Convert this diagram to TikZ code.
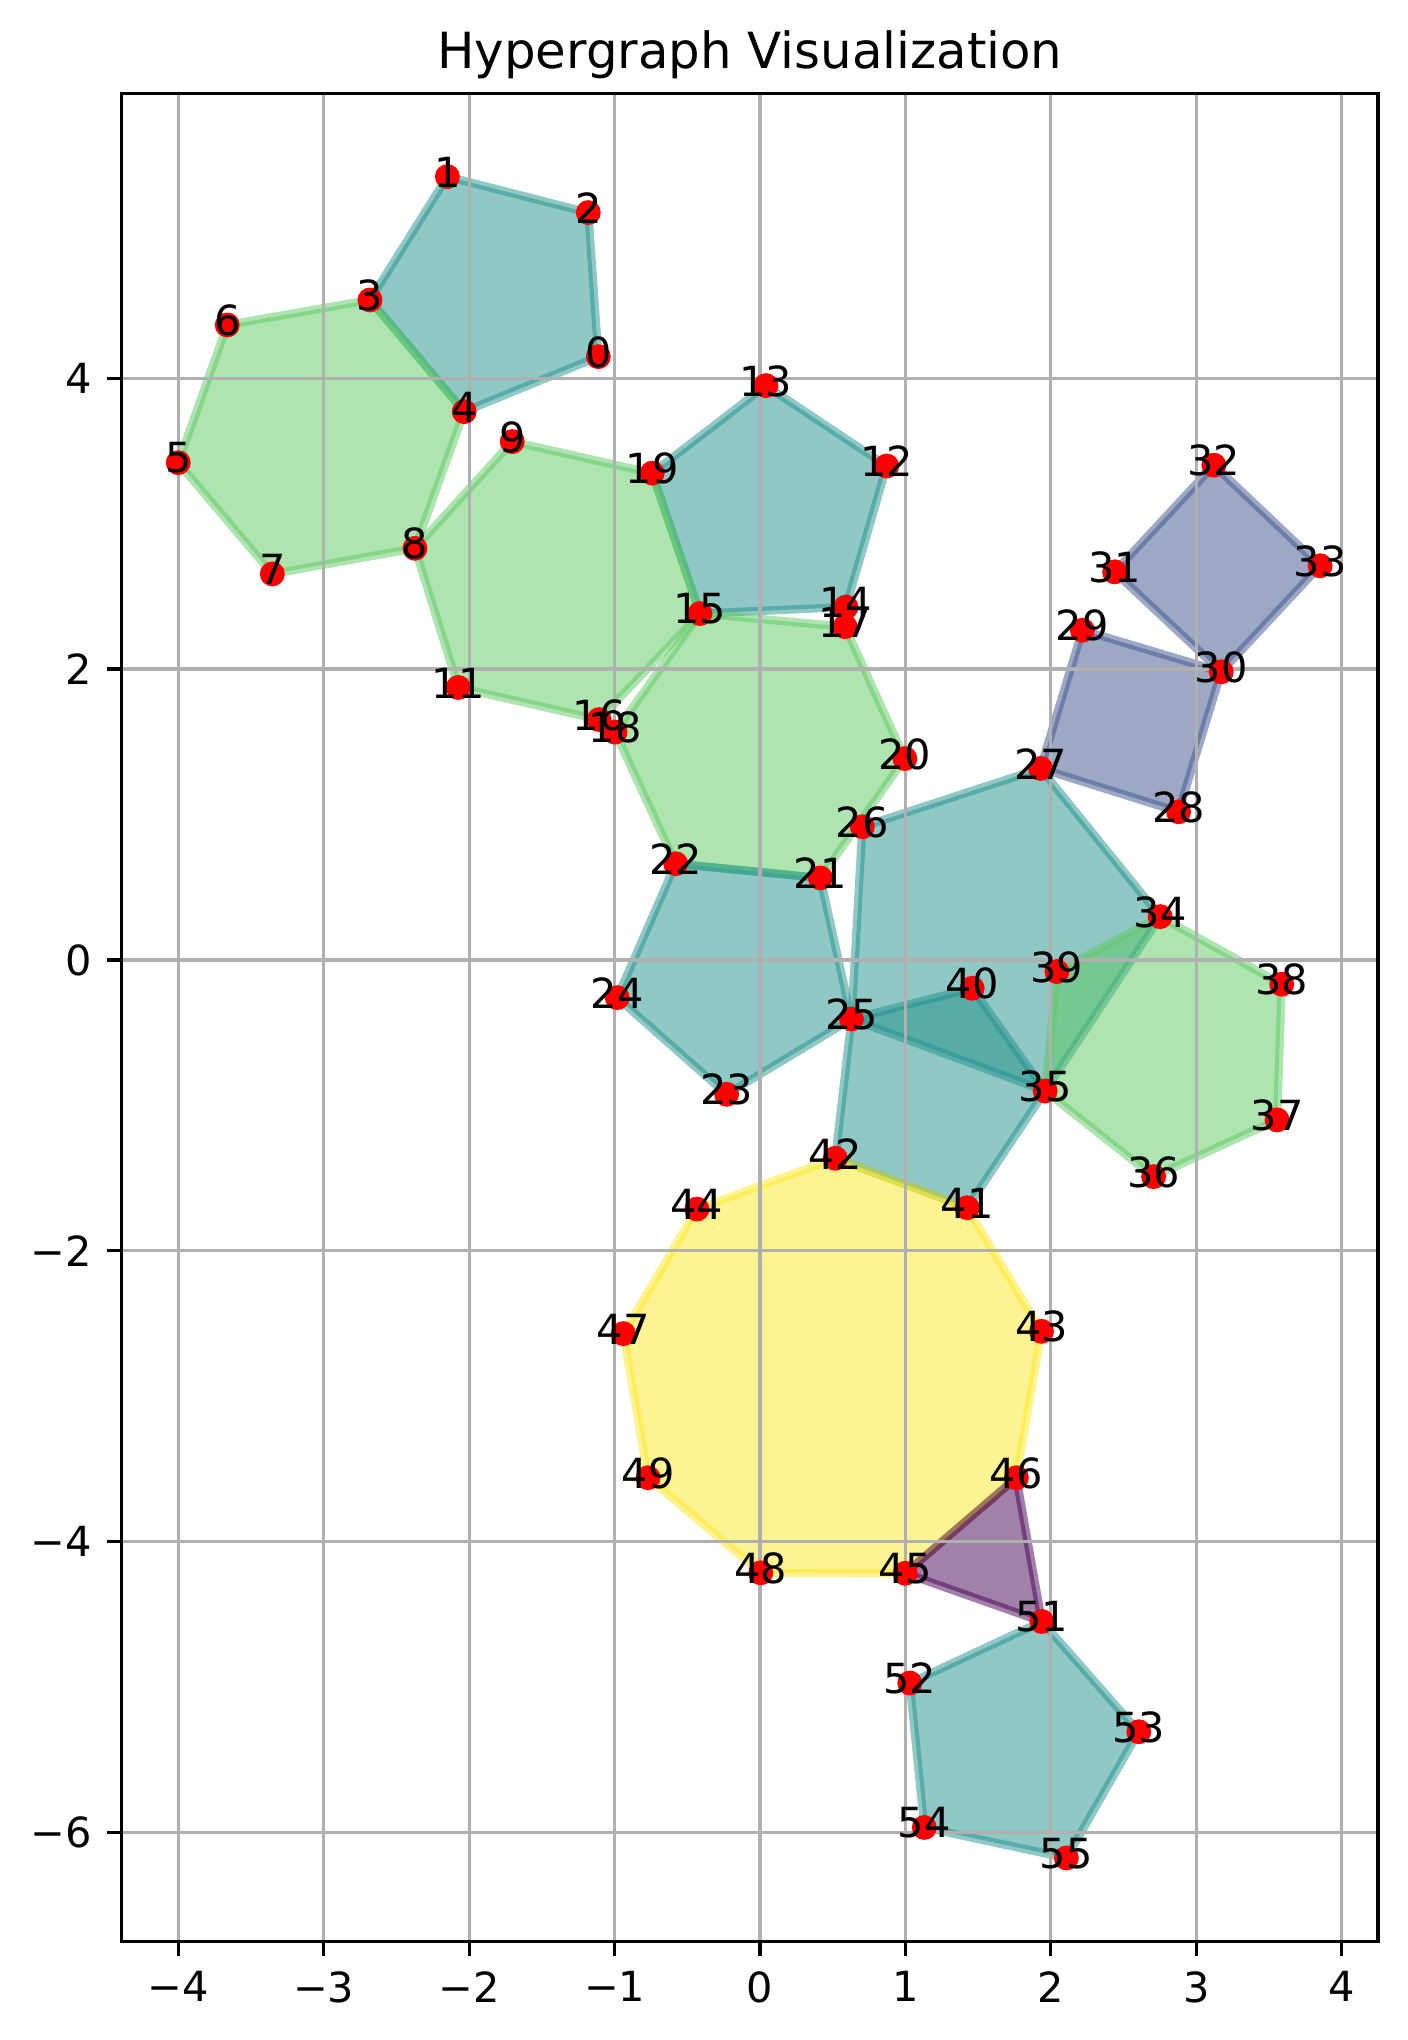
\documentclass[tikz,border=0pt]{standalone}
\usepackage{fontspec}
\setmainfont{DejaVu Sans}
\definecolor{vteal}{HTML}{21918C}
\definecolor{vgreen}{HTML}{5EC962}
\definecolor{vblue}{HTML}{3B528B}
\definecolor{vpurple}{HTML}{440154}
\definecolor{vyellow}{HTML}{FDE725}
\definecolor{gridgray}{HTML}{B0B0B0}
\tikzset{
  poly/.style={fill=#1, draw=#1, fill opacity=0.5, draw opacity=0.5, line width=2pt, line join=miter},
  dot/.style={circle, fill=red, draw=none, minimum size=6pt, inner sep=0pt},
  lbl/.style={font=\fontsize{10}{12}\selectfont, inner sep=0pt, yshift=1.1pt},
  gridline/.style={draw=gridgray, line width=0.8pt},
  spine/.style={draw=black, line width=0.8pt, line cap=rect},
  tickmark/.style={draw=black, line width=0.8pt},
  ticklbl/.style={font=\fontsize{10}{12}\selectfont, inner sep=0pt},
  titlelbl/.style={font=\fontsize{12}{14}\selectfont, inner sep=0pt, anchor=base}
}
\begin{document}
\begin{tikzpicture}[x=1.2312cm, y=1.2312cm]
\useasboundingbox (-5.227,-7.428) rectangle (4.450,6.602);
% axes frame corners
\coordinate (axsw) at (-4.39,-6.75);
\coordinate (axne) at (4.25,5.96);
% node positions
\foreach \i/\x/\y in {
 0/-1.112/4.149, 1/-2.150/5.387, 2/-1.181/5.140, 3/-2.682/4.539, 4/-2.034/3.771,
 5/-4.001/3.420, 6/-3.664/4.367, 7/-3.354/2.655, 8/-2.373/2.831, 9/-1.704/3.565,
 11/-2.075/1.874, 12/0.871/3.397, 13/0.041/3.950, 14/0.591/2.427, 15/-0.413/2.382,
 16/-1.107/1.653, 17/0.585/2.292, 18/-0.997/1.567, 19/-0.741/3.348, 20/0.996/1.385,
 21/0.415/0.564, 22/-0.580/0.662, 23/-0.230/-0.924, 24/-0.982/-0.259, 25/0.629/-0.406,
 26/0.704/0.916, 27/1.929/1.317, 28/2.879/1.019, 29/2.217/2.268, 30/3.172/1.982,
 31/2.439/2.669, 32/3.121/3.403, 33/3.852/2.711, 34/2.752/0.298, 35/1.961/-0.901,
 36/2.707/-1.490, 37/3.556/-1.100, 38/3.588/-0.167, 39/2.042/-0.080, 40/1.459/-0.195,
 41/1.425/-1.704, 42/0.518/-1.364, 43/1.936/-2.554, 44/-0.434/-1.713, 45/0.999/-4.218,
 46/1.763/-3.561, 47/-0.940/-2.570, 48/0.005/-4.215, 49/-0.770/-3.561, 51/1.938/-4.550,
 52/1.030/-4.973, 53/2.605/-5.308, 54/1.130/-5.966, 55/2.107/-6.176}
 {\coordinate (p\i) at (\x,\y);}
% hyperedges
\filldraw[poly=vteal] (p1) -- (p2) -- (p0) -- (p4) -- (p3) -- cycle;
\filldraw[poly=vgreen] (p3) -- (p6) -- (p5) -- (p7) -- (p8) -- (p4) -- cycle;
\filldraw[poly=vteal] (p19) -- (p13) -- (p12) -- (p14) -- (p15) -- cycle;
\filldraw[poly=vgreen] (p8) -- (p9) -- (p19) -- (p15) -- (p16) -- (p11) -- cycle;
\filldraw[poly=vgreen] (p15) -- (p17) -- (p20) -- (p21) -- (p22) -- (p18) -- cycle;
\filldraw[poly=vteal] (p22) -- (p21) -- (p25) -- (p23) -- (p24) -- cycle;
\filldraw[poly=vteal] (p26) -- (p27) -- (p34) -- (p35) -- (p25) -- cycle;
\filldraw[poly=vblue] (p27) -- (p29) -- (p30) -- (p28) -- cycle;
\filldraw[poly=vblue] (p31) -- (p32) -- (p33) -- (p30) -- cycle;
\filldraw[poly=vgreen] (p34) -- (p38) -- (p37) -- (p36) -- (p35) -- (p39) -- cycle;
\filldraw[poly=vteal] (p25) -- (p40) -- (p35) -- (p41) -- (p42) -- cycle;
\filldraw[poly=vyellow] (p42) -- (p41) -- (p43) -- (p46) -- (p45) -- (p48) -- (p49) -- (p47) -- (p44) -- cycle;
\filldraw[poly=vpurple] (p46) -- (p51) -- (p45) -- cycle;
\filldraw[poly=vteal] (p51) -- (p53) -- (p55) -- (p54) -- (p52) -- cycle;
% grid
\foreach \gx in {-4,...,4} {\draw[gridline] (\gx,-6.75) -- (\gx,5.96);}
\foreach \gy in {-6,-4,...,4} {\draw[gridline] (-4.39,\gy) -- (4.25,\gy);}
% dots and labels
\foreach \i in {0,...,9,11,12,...,49,51,52,53,54,55}
 {\node[dot] (d\i) at (p\i) {};}
\foreach \i in {0,...,9,11,12,...,49,51,52,53,54,55}
 {\node[lbl] (l\i) at (p\i) {\i};}
% spines
\draw[spine] (axsw) rectangle (axne);
% x ticks
\foreach \gx/\t in {-4/−4,-3/−3,-2/−2,-1/−1,0/0,1/1,2/2,3/3,4/4} {
 \draw[tickmark] (\gx,-6.75) -- ++(0,-3.5pt);
 \node[ticklbl, anchor=north] (xt\gx) at ([yshift=-7pt]\gx,-6.75) {\t};
}
% y ticks
\foreach \gy/\t in {-6/−6,-4/−4,-2/−2,0/0,2/2,4/4} {
 \draw[tickmark] (-4.39,\gy) -- ++(-3.5pt,0);
 \node[ticklbl, anchor=east] (yt\gy) at ([xshift=-7pt]-4.39,\gy) {\t};
}
% title
\node[titlelbl] (title) at ([yshift=6pt]-0.07,5.96) {Hypergraph Visualization};
\end{tikzpicture}
\end{document}
